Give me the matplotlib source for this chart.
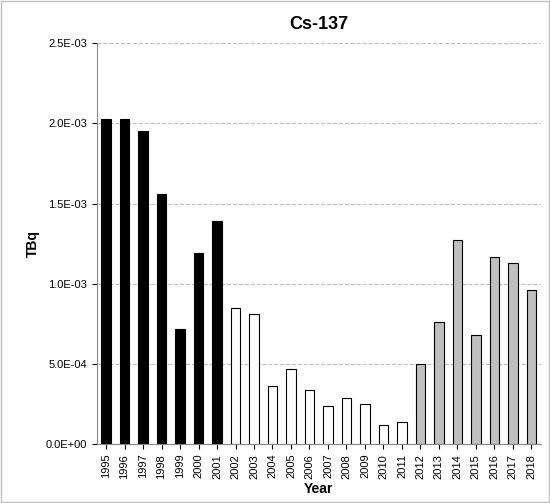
import matplotlib
matplotlib.use("Agg")
import matplotlib.pyplot as plt
from matplotlib.ticker import FixedLocator

years = [str(y) for y in range(1995, 2019)]
values = [2.03e-3, 2.03e-3, 1.95e-3, 1.56e-3, 0.72e-3, 1.19e-3, 1.39e-3,
          0.85e-3, 0.81e-3, 0.36e-3, 0.47e-3, 0.34e-3, 0.24e-3, 0.29e-3, 0.25e-3, 0.12e-3, 0.14e-3,
          0.50e-3, 0.76e-3, 1.27e-3, 0.68e-3, 1.17e-3, 1.13e-3, 0.96e-3]
colors = ["black"] * 7 + ["white"] * 10 + ["#bfbfbf"] * 7
yticks = [0, 5e-4, 1e-3, 1.5e-3, 2e-3, 2.5e-3]
ylabels = ["0.0E+00", "5.0E-04", "1.0E-03", "1.5E-03", "2.0E-03", "2.5E-03"]

plt.rcParams['font.family'] = ['Liberation Sans', 'DejaVu Sans']
fig = plt.figure(figsize=(5.5, 5.03), dpi=100)
fig.patches.append(plt.Rectangle((0.002, 0.002), 0.996, 0.996, transform=fig.transFigure,
                                 fill=False, edgecolor="#bfbfbf", lw=1))
ax = fig.add_axes([0.176, 0.117, 0.807, 0.797])
x = range(len(years))
ax.bar(x, values, width=0.5, color=colors, edgecolor="black", linewidth=0.8, zorder=3)
ax.set_xlim(-0.5, len(years) - 0.5)
ax.set_ylim(0, 2.5e-3)
ax.set_yticks(yticks)
ax.set_yticklabels(ylabels, fontsize=8)
ax.set_xticks(list(x))
ax.set_xticklabels(years, rotation=90, fontsize=8)
ax.grid(axis="y", linestyle="--", color="#bfbfbf", lw=0.8, zorder=0)
for s in ["top", "right"]:
    ax.spines[s].set_visible(False)
ax.spines["left"].set_color("#888888")
ax.spines["bottom"].set_color("#888888")
ax.set_title("Cs-137", fontsize=13, fontweight="bold", pad=10)
ax.set_ylabel("TBq", fontsize=10, fontweight="bold")
ax.set_xlabel("Year", fontsize=10, fontweight="bold", labelpad=2)
fig.savefig("out.png", dpi=100)
